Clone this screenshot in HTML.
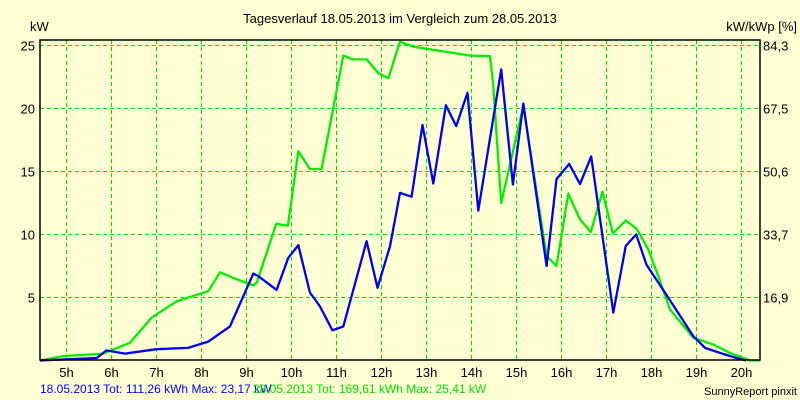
<!DOCTYPE html>
<html><head><meta charset="utf-8"><style>
body{margin:0;background:#ffffd4;}
svg{display:block;font-family:"Liberation Sans",sans-serif;}
</style></head><body>
<svg id="chart" width="800" height="400" viewBox="0 0 800 400">
<rect x="0" y="0" width="800" height="400" fill="#ffffd4"/>
<text x="400" y="23" font-size="13" text-anchor="middle" fill="#000">Tagesverlauf 18.05.2013 im Vergleich zum 28.05.2013</text>
<text x="30" y="31" font-size="13" fill="#000">kW</text>
<text x="797" y="31" font-size="13" text-anchor="end" fill="#000">kW/kWp [%]</text>
<g id="grid"></g>
<g id="axes"></g>
<g id="series"></g>
<rect x="40" y="40" width="720" height="320" fill="none" stroke="#000" stroke-width="1.5"/>
<text x="40" y="393" font-size="12" fill="#0000ff">18.05.2013 Tot: 111,26 kWh Max: 23,17 kW</text>
<text x="253" y="393" font-size="12" fill="#00e000">28.05.2013 Tot: 169,61 kWh Max: 25,41 kW</text>
<text x="797" y="395" font-size="11" text-anchor="end" fill="#000">SunnyReport pinxit</text>
</svg>
<script>
const hourTicks = [5,6,7,8,9,10,11,12,13,14,15,16,17,18,19,20];
const kwTicks = [5,10,15,20,25];
const pctLabels = ["16,9","33,7","50,6","67,5","84,3"];
const blueTimes = [4.41,5.67,5.89,6.3,7.0,7.7,8.15,8.63,9.15,9.26,9.67,9.93,10.15,10.41,10.63,10.91,11.15,11.67,11.91,12.19,12.41,12.67,12.91,13.15,13.43,13.66,13.91,14.15,14.66,14.92,15.15,15.67,15.89,16.17,16.41,16.66,17.15,17.43,17.66,17.89,18.37,18.93,19.19,19.52,19.89,20.1];
const blueValues = [0,0.2,0.8,0.55,0.9,1.0,1.5,2.7,6.9,6.7,5.6,8.15,9.15,5.4,4.3,2.4,2.7,9.47,5.77,9.07,13.3,13.0,18.7,14.05,20.26,18.6,21.25,11.9,23.1,13.97,20.4,7.5,14.4,15.6,14.0,16.2,3.8,9.1,10.0,7.6,5.0,1.93,1.0,0.6,0.2,0];
const greenTimes = [4.41,4.93,5.82,6.41,6.89,7.45,8.15,8.41,8.71,9.15,9.23,9.66,9.92,10.15,10.41,10.67,11.15,11.37,11.67,11.93,12.15,12.41,12.71,13.97,14.41,14.48,14.66,15.15,15.67,15.89,16.15,16.41,16.65,16.91,17.14,17.43,17.67,17.93,18.15,18.41,18.93,19.37,19.74,20.19,20.41];
const greenValues = [0,0.35,0.55,1.4,3.4,4.7,5.5,7.0,6.55,5.95,6.2,10.85,10.7,16.6,15.2,15.2,24.2,23.9,23.9,22.8,22.4,25.3,24.9,24.2,24.15,22,12.5,20.2,8.3,7.5,13.25,11.2,10.2,13.4,10.1,11.1,10.45,8.8,6.7,4.05,1.8,1.27,0.6,0,0];

const NS="http://www.w3.org/2000/svg";
const xs = h => 246.5 + (h-9)*45;
const ys = v => 360.5 - v*12.6;
const grid=document.getElementById('grid'), axes=document.getElementById('axes'), series=document.getElementById('series');
function mk(tag, attrs){const e=document.createElementNS(NS,tag);for(const k in attrs)e.setAttribute(k,attrs[k]);return e;}
hourTicks.forEach(h=>{
  const l=mk('line',{x1:xs(h),x2:xs(h),y1:40,y2:360,stroke:'#00e000','stroke-width':1,'stroke-dasharray':'4,3'});
  
  
  grid.appendChild(l);
  const t=mk('text',{x:xs(h),y:377,'font-size':13,'text-anchor':'middle',fill:'#000'});
  t.textContent=h+'h';
  
  
  axes.appendChild(t);
});
kwTicks.forEach((v,i)=>{
  const l=mk('line',{x1:40,x2:760,y1:ys(v),y2:ys(v),stroke:'#00e000','stroke-width':1,'stroke-dasharray':'4,3'});
  
  
  grid.appendChild(l);
  const t=mk('text',{x:35,y:ys(v)+5,'font-size':13,'text-anchor':'end',fill:'#000'});
  t.textContent=v;
  
  
  axes.appendChild(t);
  const r=mk('text',{x:763,y:ys(v)+5,'font-size':13,fill:'#000'});
  r.textContent=pctLabels[i];
  
  
  axes.appendChild(r);
});
function line(times, vals, color, name){
  const p=mk('polyline',{points:times.map((t,i)=>xs(t).toFixed(1)+','+ys(vals[i]).toFixed(1)).join(' '),fill:'none',stroke:color,'stroke-width':2.3,'stroke-linejoin':'round'});
  
  
  series.appendChild(p);
}
line(greenTimes, greenValues, '#00ee00', 'series-28-05-2013');
line(blueTimes, blueValues, '#0000ee', 'series-18-05-2013');
</script>
</body></html>
